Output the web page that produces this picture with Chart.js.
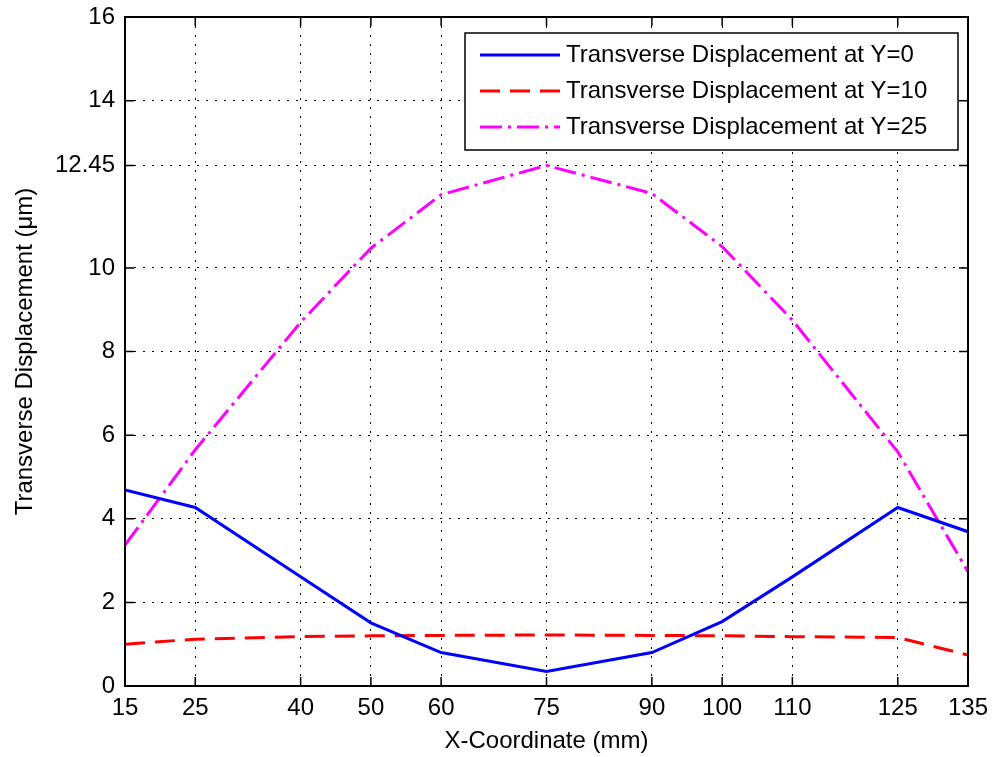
<!DOCTYPE html>
<html>
<head>
<meta charset="utf-8">
<script src="https://cdn.jsdelivr.net/npm/chart.js@4"></script>
<style>
  html, body { margin: 0; padding: 0; background: #fff; }
  #wrap { width: 992px; height: 757px; }
</style>
</head>
<body>
<div id="wrap"><canvas id="c" width="992" height="757"></canvas></div>
<script>
// Measurement stations along the plate (mm)
const xCoords = [15, 25, 40, 50, 60, 75, 90, 100, 110, 125, 135];

// Transverse displacement (µm) along three lines
const dispY0  = [4.69, 4.27, 2.61, 1.51, 0.80, 0.35, 0.80, 1.54, 2.61, 4.27, 3.69];
const dispY10 = [1.00, 1.12, 1.18, 1.20, 1.21, 1.22, 1.21, 1.20, 1.18, 1.16, 0.74];
const dispY25 = [3.37, 5.65, 8.70, 10.47, 11.75, 12.45, 11.78, 10.51, 8.75, 5.60, 2.73];

const seriesLabels = [
  'Transverse Displacement at Y=0',
  'Transverse Displacement at Y=10',
  'Transverse Displacement at Y=25'
];

// Axis tick values
const xTickValues = [15, 25, 40, 50, 60, 75, 90, 100, 110, 125, 135];
const yTickValues = [0, 2, 4, 6, 8, 10, 12.45, 14, 16];

const FONT = 'Arial, "Liberation Sans", Helvetica, sans-serif';
Chart.defaults.font.family = FONT;
Chart.defaults.font.size = 24;
Chart.defaults.color = '#000';

const toPoints = vals => xCoords.map((x, i) => ({ x: x, y: vals[i] }));

// Keep the plot box fixed: no extra room reserved for overhanging tick labels
const zeroPadding = s => {
  s.paddingLeft = 0; s.paddingRight = 0; s.paddingTop = 0; s.paddingBottom = 0;
};

// Box frame with inward ticks on all four sides
const axesFrame = {
  id: 'axesFrame',
  afterDatasetsDraw(chart) {
    const { ctx, chartArea: a, scales: { x, y } } = chart;
    const len = 9;
    ctx.save();
    ctx.strokeStyle = '#000';
    ctx.lineWidth = 1.5;
    ctx.setLineDash([]);
    ctx.beginPath();
    x.ticks.forEach(t => {
      const px = x.getPixelForValue(t.value);
      ctx.moveTo(px, a.bottom); ctx.lineTo(px, a.bottom - len);
      ctx.moveTo(px, a.top);    ctx.lineTo(px, a.top + len);
    });
    y.ticks.forEach(t => {
      const py = y.getPixelForValue(t.value);
      ctx.moveTo(a.left, py);  ctx.lineTo(a.left + len, py);
      ctx.moveTo(a.right, py); ctx.lineTo(a.right - len, py);
    });
    ctx.stroke();
    ctx.lineWidth = 2;
    ctx.strokeRect(a.left, a.top, a.right - a.left, a.bottom - a.top);
    ctx.restore();
  }
};

// Boxed legend in the upper right corner of the axes
const boxLegend = {
  id: 'boxLegend',
  afterDraw(chart) {
    const { ctx, chartArea: a } = chart;
    const w = 493, h = 117;
    const right = a.right - 10, top = a.top + 16;
    const left = right - w;
    ctx.save();
    ctx.fillStyle = '#fff';
    ctx.fillRect(left, top, w, h);
    ctx.strokeStyle = '#000';
    ctx.lineWidth = 1.5;
    ctx.setLineDash([]);
    ctx.strokeRect(left, top, w, h);
    ctx.font = '24px ' + FONT;
    ctx.textBaseline = 'middle';
    ctx.textAlign = 'left';
    chart.data.datasets.forEach((ds, i) => {
      const cy = top + 22 + i * 36;
      ctx.strokeStyle = ds.borderColor;
      ctx.lineWidth = ds.borderWidth;
      ctx.setLineDash(ds.borderDash || []);
      ctx.beginPath();
      ctx.moveTo(left + 15, cy);
      ctx.lineTo(left + 95, cy);
      ctx.stroke();
      ctx.setLineDash([]);
      ctx.fillStyle = '#000';
      ctx.fillText(ds.label, left + 101, cy);
    });
    ctx.restore();
  }
};

new Chart(document.getElementById('c'), {
  type: 'line',
  data: {
    datasets: [
      { label: seriesLabels[0], data: toPoints(dispY0),  borderColor: '#0000ff', borderWidth: 3, borderDash: [] },
      { label: seriesLabels[1], data: toPoints(dispY10), borderColor: '#ff0000', borderWidth: 3, borderDash: [20, 10] },
      { label: seriesLabels[2], data: toPoints(dispY25), borderColor: '#ff00ff', borderWidth: 3, borderDash: [22, 6, 3, 6] }
    ]
  },
  options: {
    responsive: false,
    devicePixelRatio: 1,
    animation: false,
    layout: { padding: { left: 0, right: 24, top: 17, bottom: 0 } },
    elements: {
      point: { radius: 0, hoverRadius: 0 },
      line: { tension: 0, fill: false, borderCapStyle: 'butt' }
    },
    plugins: { legend: { display: false }, tooltip: { enabled: false } },
    scales: {
      x: {
        type: 'linear',
        min: 15, max: 135,
        afterBuildTicks: s => { s.ticks = xTickValues.map(v => ({ value: v })); },
        afterFit: s => { s.height = 71; zeroPadding(s); },
        ticks: { autoSkip: false, maxRotation: 0, padding: 8, callback: v => String(v) },
        grid: { color: '#000', lineWidth: 1, drawTicks: false },
        border: { display: false, dash: [2, 7] },
        title: { display: true, text: 'X-Coordinate (mm)', padding: { top: 0, bottom: 1 } }
      },
      y: {
        type: 'linear',
        min: 0, max: 16,
        afterBuildTicks: s => { s.ticks = yTickValues.map(v => ({ value: v })); },
        afterFit: s => { s.width = 125; zeroPadding(s); },
        ticks: { autoSkip: false, padding: 10, callback: v => String(v) },
        grid: { color: '#000', lineWidth: 1, drawTicks: false },
        border: { display: false, dash: [2, 7] },
        title: { display: true, text: 'Transverse Displacement (μm)', padding: { top: 11, bottom: 0 } }
      }
    }
  },
  plugins: [axesFrame, boxLegend]
});
</script>
</body>
</html>
